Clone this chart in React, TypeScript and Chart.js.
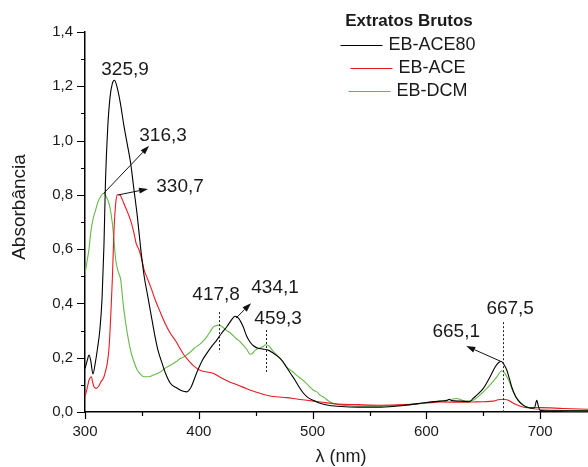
import { useEffect, useRef } from 'react';
import { Chart, registerables } from 'chart.js';

Chart.register(...registerables);

// ---------- data ----------
const ace80X = [300, 302, 303.5, 305, 307, 309, 311, 313, 315, 316.7, 318, 320, 322, 324, 325.9, 328, 331, 334, 337, 340, 343, 346, 349, 352, 355, 358, 361, 364, 367.7, 371, 375, 380, 385, 389.4, 393, 398, 403, 407, 411, 415.8, 420, 424.6, 428, 431.9, 435, 439, 442, 445, 448, 452, 456, 461, 465, 470, 474, 477, 481, 484.6, 488, 492, 496, 500.7, 506.6, 515, 525, 540, 560, 580, 600, 612, 618, 620, 622, 630, 638, 641, 645, 650, 656, 660.4, 663, 665.5, 668, 670.7, 673, 675, 678, 680.6, 684, 688, 692, 695, 697, 698.5, 700, 710, 725, 742];
const ace80Y = [0.16, 0.19, 0.21, 0.19, 0.14, 0.18, 0.235, 0.3, 0.42, 0.62, 0.85, 1.05, 1.16, 1.21, 1.222, 1.2, 1.14, 1.06, 0.99, 0.92, 0.82, 0.72, 0.6, 0.5, 0.43, 0.36, 0.29, 0.23, 0.18, 0.14, 0.106, 0.09, 0.078, 0.074, 0.09, 0.143, 0.19, 0.216, 0.24, 0.265, 0.29, 0.314, 0.335, 0.353, 0.345, 0.314, 0.28, 0.258, 0.244, 0.235, 0.232, 0.228, 0.218, 0.203, 0.185, 0.166, 0.14, 0.117, 0.093, 0.069, 0.053, 0.043, 0.032, 0.024, 0.02, 0.018, 0.018, 0.024, 0.035, 0.04, 0.042, 0.047, 0.042, 0.04, 0.038, 0.05, 0.065, 0.087, 0.13, 0.166, 0.18, 0.187, 0.176, 0.154, 0.122, 0.092, 0.06, 0.043, 0.028, 0.018, 0.014, 0.016, 0.043, 0.02, 0.005, 0.004, 0.004, 0.004];

const aceX = [300, 302, 303.5, 305.5, 307, 308, 310, 312, 313.8, 316.7, 318, 319.6, 321, 322, 323, 324, 325.5, 327, 328.5, 330.7, 332, 334, 337, 340, 343, 345, 347.5, 350, 352, 355, 357.8, 362, 366.5, 370, 375, 380, 383.5, 387, 392, 396, 401, 406, 412.5, 420, 427.5, 435, 442, 450, 459.7, 468, 477, 486, 495, 506.6, 520, 540, 560, 580, 600, 612, 630, 641, 650, 658.7, 663, 667.5, 672, 676, 682, 688, 700, 720, 742];
const aceY = [0.055, 0.09, 0.117, 0.13, 0.105, 0.092, 0.087, 0.095, 0.11, 0.13, 0.15, 0.18, 0.23, 0.3, 0.39, 0.486, 0.67, 0.77, 0.8, 0.8, 0.79, 0.77, 0.74, 0.707, 0.66, 0.62, 0.597, 0.56, 0.523, 0.49, 0.46, 0.41, 0.364, 0.33, 0.29, 0.26, 0.234, 0.21, 0.185, 0.168, 0.154, 0.148, 0.143, 0.125, 0.11, 0.098, 0.086, 0.074, 0.062, 0.056, 0.053, 0.048, 0.043, 0.037, 0.03, 0.027, 0.025, 0.027, 0.033, 0.037, 0.036, 0.037, 0.038, 0.04, 0.045, 0.047, 0.043, 0.033, 0.022, 0.016, 0.016, 0.013, 0.01];

const dcmX = [300, 302, 303.5, 305, 307, 309.4, 311.5, 313.8, 316.3, 318.5, 321, 322.5, 324, 325.5, 327, 329, 331.4, 333.5, 335.8, 338, 340, 343, 346, 349, 352, 356, 360, 366.5, 370, 375, 380, 383.5, 387, 392.3, 396, 401, 404, 407, 410, 412.8, 415, 417.2, 420, 424.6, 428, 433, 436, 439, 442, 445, 447, 449.5, 453, 456, 459, 462, 465, 468.5, 472, 477, 482, 486, 490, 493.4, 497.8, 500.7, 503.7, 506.6, 509.5, 515.4, 521, 530, 545, 560, 580, 594.5, 605, 612, 620, 626.6, 631, 635, 641, 645, 650, 656, 662, 666.3, 668.5, 670.7, 673, 675, 678, 681, 684, 688, 694, 700, 720, 742];
const dcmY = [0.51, 0.56, 0.6, 0.66, 0.71, 0.745, 0.775, 0.794, 0.806, 0.795, 0.77, 0.74, 0.697, 0.63, 0.56, 0.52, 0.486, 0.4, 0.327, 0.27, 0.228, 0.185, 0.154, 0.138, 0.13, 0.13, 0.136, 0.148, 0.16, 0.172, 0.185, 0.197, 0.203, 0.22, 0.235, 0.25, 0.262, 0.277, 0.296, 0.314, 0.318, 0.32, 0.316, 0.3, 0.29, 0.27, 0.26, 0.246, 0.232, 0.213, 0.215, 0.228, 0.235, 0.24, 0.248, 0.242, 0.225, 0.21, 0.195, 0.166, 0.15, 0.135, 0.122, 0.11, 0.092, 0.08, 0.074, 0.062, 0.055, 0.037, 0.028, 0.024, 0.022, 0.022, 0.026, 0.031, 0.037, 0.04, 0.045, 0.05, 0.044, 0.04, 0.043, 0.055, 0.074, 0.1, 0.13, 0.152, 0.145, 0.13, 0.11, 0.086, 0.062, 0.043, 0.03, 0.018, 0.012, 0.009, 0.005, 0.004];

const seriesNames = ['EB-ACE80', 'EB-ACE', 'EB-DCM'];
const legendTitle = 'Extratos Brutos';
const xTitle = 'λ (nm)';
const yTitle = 'Absorbância';

const xMajorTicks = [300, 400, 500, 600, 700];
const xMinorTicks = [350, 450, 550, 650];
const yMajorTicks = [0, 0.2, 0.4, 0.6, 0.8, 1.0, 1.2, 1.4];
const yMinorTicks = [0.1, 0.3, 0.5, 0.7, 0.9, 1.1, 1.3];

// peak annotations (data coordinates)
const peakLabels = ['325,9', '316,3', '330,7', '417,8', '434,1', '459,3', '667,5', '665,1'];
const peakLabelX = [335.2, 368.6, 383.5, 415.2, 467, 469.7, 673.6, 626.2];
const peakLabelY = [1.261, 1.017, 0.829, 0.431, 0.456, 0.342, 0.382, 0.297];

const arrowFromX = [316.3, 329.5, 432.7, 665.1];
const arrowFromY = [0.805, 0.8, 0.346, 0.187];
const arrowToX = [356.3, 355.4, 445.9, 635];
const arrowToY = [0.981, 0.822, 0.401, 0.243];

const dottedX = [417.8, 459.3, 667.5];
const dottedTop = [0.368, 0.302, 0.331];
const dottedBottom = [0.22, 0.143, 0];

const COLORS = ['#000000', 'rgb(235,25,35)', 'rgb(100,185,72)'];
const FONT = '"Liberation Sans", Arial, sans-serif';

const fmt = (v: number) => v.toFixed(1).replace('.', ',');

const overlay = {
  id: 'overlay',
  afterDraw(chart: any) {
    const { ctx, chartArea } = chart;
    const xs = chart.scales.x;
    const ys = chart.scales.y;
    ctx.save();
    ctx.strokeStyle = '#000';
    ctx.lineWidth = 1.2;
    // ticks
    const bottom = chartArea.bottom;
    const left = chartArea.left;
    ctx.beginPath();
    xMajorTicks.forEach((v) => {
      const p = Math.round(xs.getPixelForValue(v)) + 0.5;
      ctx.moveTo(p, bottom);
      ctx.lineTo(p, bottom + 7);
    });
    xMinorTicks.forEach((v) => {
      const p = Math.round(xs.getPixelForValue(v)) + 0.5;
      ctx.moveTo(p, bottom);
      ctx.lineTo(p, bottom + 4);
    });
    yMajorTicks.forEach((v) => {
      const p = Math.round(ys.getPixelForValue(v)) + 0.5;
      ctx.moveTo(left, p);
      ctx.lineTo(left - 8, p);
    });
    yMinorTicks.forEach((v) => {
      const p = Math.round(ys.getPixelForValue(v)) + 0.5;
      ctx.moveTo(left, p);
      ctx.lineTo(left - 4, p);
    });
    ctx.stroke();

    // dotted lines
    ctx.lineWidth = 1;
    ctx.setLineDash([2, 2]);
    ctx.strokeStyle = '#222';
    dottedX.forEach((v, i) => {
      const p = Math.round(xs.getPixelForValue(v)) + 0.5;
      ctx.beginPath();
      ctx.moveTo(p, ys.getPixelForValue(dottedTop[i]));
      ctx.lineTo(p, ys.getPixelForValue(dottedBottom[i]));
      ctx.stroke();
    });
    ctx.setLineDash([]);

    // arrows
    ctx.strokeStyle = '#111';
    ctx.fillStyle = '#111';
    arrowFromX.forEach((v, i) => {
      const x1 = xs.getPixelForValue(v);
      const y1 = ys.getPixelForValue(arrowFromY[i]);
      const x2 = xs.getPixelForValue(arrowToX[i]);
      const y2 = ys.getPixelForValue(arrowToY[i]);
      const ang = Math.atan2(y2 - y1, x2 - x1);
      const hl = 9;
      const hw = 3;
      const bx = x2 - hl * Math.cos(ang);
      const by = y2 - hl * Math.sin(ang);
      ctx.beginPath();
      ctx.moveTo(x1, y1);
      ctx.lineTo(bx, by);
      ctx.stroke();
      ctx.beginPath();
      ctx.moveTo(x2, y2);
      ctx.lineTo(bx + hw * Math.sin(ang), by - hw * Math.cos(ang));
      ctx.lineTo(bx - hw * Math.sin(ang), by + hw * Math.cos(ang));
      ctx.closePath();
      ctx.fill();
    });

    // peak labels
    ctx.fillStyle = '#1a1a1a';
    ctx.font = `19px ${FONT}`;
    ctx.textAlign = 'center';
    ctx.textBaseline = 'middle';
    peakLabels.forEach((t, i) => {
      ctx.fillText(t, xs.getPixelForValue(peakLabelX[i]), ys.getPixelForValue(peakLabelY[i]));
    });

    // axis titles
    ctx.font = `18px ${FONT}`;
    ctx.fillText(xTitle, 341, 457);
    ctx.save();
    ctx.translate(20, 207);
    ctx.rotate(-Math.PI / 2);
    ctx.font = `19px ${FONT}`;
    ctx.fillText(yTitle, 0, 0);
    ctx.restore();

    // legend
    const cx = 408;
    ctx.font = `bold 17px ${FONT}`;
    ctx.fillText(legendTitle, 409, 21);
    ctx.font = `18px ${FONT}`;
    ctx.textAlign = 'left';
    const rowY = [45, 68, 91];
    seriesNames.forEach((name, i) => {
      const tw = ctx.measureText(name).width;
      const total = 42 + 6 + tw;
      const sx = cx - total / 2;
      ctx.strokeStyle = COLORS[i];
      ctx.lineWidth = 1.2;
      ctx.beginPath();
      ctx.moveTo(sx, rowY[i] + 0.5);
      ctx.lineTo(sx + 42, rowY[i] + 0.5);
      ctx.stroke();
      ctx.fillStyle = '#1a1a1a';
      ctx.fillText(name, sx + 48, rowY[i]);
    });
    ctx.restore();
  },
};

export default function App() {
  const ref = useRef<HTMLCanvasElement | null>(null);
  useEffect(() => {
    if (!ref.current) return;
    const mk = (xs: number[], ys: number[]) => xs.map((x, i) => ({ x, y: ys[i] }));
    const chart = new Chart(ref.current, {
      type: 'line',
      data: {
        datasets: [
          { label: seriesNames[0], data: mk(ace80X, ace80Y), borderColor: COLORS[0], borderWidth: 1.1, pointRadius: 0, cubicInterpolationMode: 'monotone', fill: false },
          { label: seriesNames[1], data: mk(aceX, aceY), borderColor: COLORS[1], borderWidth: 1.1, pointRadius: 0, cubicInterpolationMode: 'monotone', fill: false },
          { label: seriesNames[2], data: mk(dcmX, dcmY), borderColor: COLORS[2], borderWidth: 1.1, pointRadius: 0, cubicInterpolationMode: 'monotone', fill: false },
        ],
      },
      options: {
        responsive: false,
        animation: false,
        events: [],
        layout: { padding: { top: 32, left: 0, right: 0, bottom: 0 } },
        plugins: { legend: { display: false }, tooltip: { enabled: false }, title: { display: false } },
        scales: {
          x: {
            type: 'linear',
            min: 300,
            max: 742,
            afterBuildTicks: (s: any) => { s.ticks = xMajorTicks.map((v) => ({ value: v })); },
            afterFit: (s: any) => { s.height = 55; },
            grid: { display: false, drawTicks: false },
            border: { display: true, color: '#000', width: 1.5 },
            ticks: { color: '#1a1a1a', font: { family: FONT, size: 15 }, padding: 11, maxRotation: 0, autoSkip: false, callback: (v: any) => String(v) },
          },
          y: {
            type: 'linear',
            min: 0,
            max: 1.4,
            afterBuildTicks: (s: any) => { s.ticks = yMajorTicks.map((v) => ({ value: v })); },
            afterFit: (s: any) => { s.width = 85; },
            grid: { display: false, drawTicks: false },
            border: { display: true, color: '#000', width: 1.5 },
            ticks: { color: '#1a1a1a', font: { family: FONT, size: 15 }, padding: 12, autoSkip: false, callback: (v: any) => fmt(Number(v)) },
          },
        },
      },
      plugins: [overlay],
    } as any);
    return () => chart.destroy();
  }, []);
  return (
    <div style={{ position: 'absolute', left: 0, top: 0, width: 588, height: 467, background: '#fff' }}>
      <canvas ref={ref} width={588} height={467} style={{ display: 'block' }} />
    </div>
  );
}
